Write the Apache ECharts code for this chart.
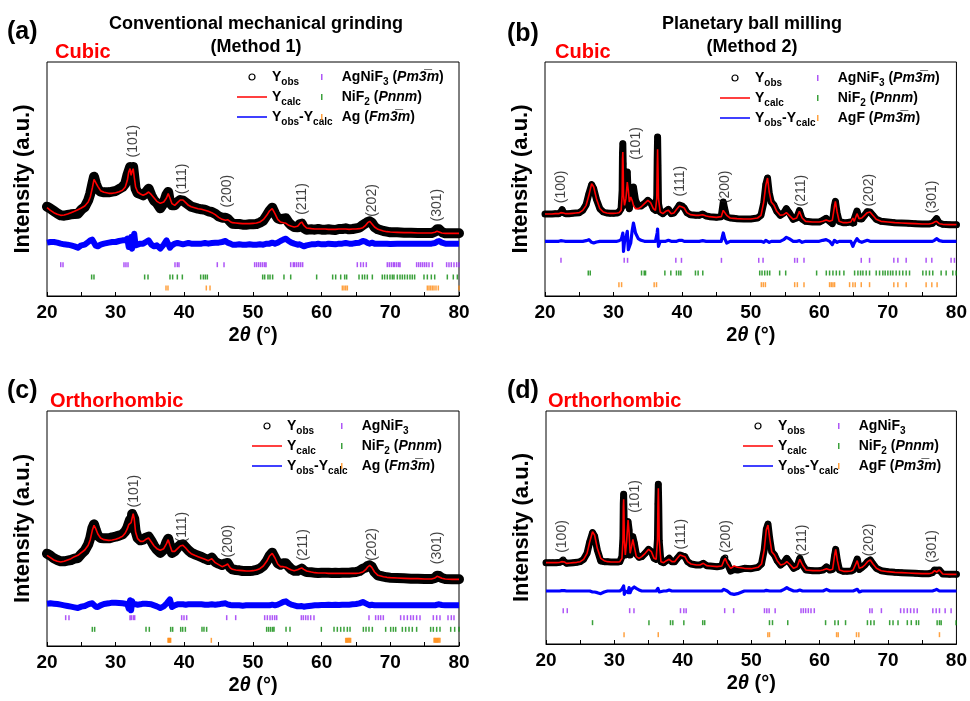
<!DOCTYPE html>
<html>
<head>
<meta charset="utf-8">
<script src="https://cdn.jsdelivr.net/npm/echarts@6/dist/echarts.min.js"></script>
<style>
  html, body { margin: 0; padding: 0; background: #fff; }
  #chart { width: 970px; height: 701px; }
</style>
</head>
<body>
<div id="chart"></div>
<script>
// ---------- 2θ sampling grids ----------
// Method 1 (conventional grinding) patterns
const twoThetaM1 = [
  20, 20.5, 21, 21.5, 22, 22.5, 23, 23.5, 24, 24.5, 25, 25.5, 26,
  26.3, 26.6, 26.85, 27.1, 27.4, 27.8, 28.3,
  29, 29.5, 30, 30.5, 31,
  31.4, 31.7, 31.9, 32.1, 32.25, 32.4, 32.55, 32.7, 32.9,
  33.2, 33.6, 34, 34.4, 34.8, 35.2, 35.6, 36, 36.5, 37,
  37.4, 37.65, 37.9, 38.2, 38.6, 39, 39.4, 39.8, 40.2, 40.6,
  41, 41.5, 42, 42.5, 43, 43.5, 44, 44.5, 45, 45.5, 46,
  46.3, 46.7,
  47, 47.5, 48, 48.5, 49, 49.5, 50, 50.5, 51, 51.5, 52,
  52.4, 52.8, 53.2, 53.6, 54, 54.4, 54.8, 55.2, 55.6, 56,
  56.5, 56.8, 57.1, 57.4, 57.8,
  58.5, 59, 59.5, 60, 60.5, 61, 61.5, 62, 62.5, 63, 63.5, 64, 64.5, 65, 65.5, 66,
  66.4, 66.7, 67, 67.3, 67.7, 68.2,
  69, 69.5, 70, 71, 72, 73, 74, 75, 76,
  76.5, 76.8, 77.1, 77.5, 78, 79, 80
];
// Method 2 (planetary ball milling) patterns
const twoThetaM2 = [
  20, 20.5, 21, 21.5, 22, 22.3, 22.5, 22.7, 23, 23.5, 24, 24.5, 25, 25.5, 26,
  26.4, 26.8, 27.1, 27.5, 28, 28.5, 29, 29.5, 30, 30.5, 30.8,
  31.1, 31.25, 31.3, 31.35, 31.4, 31.45, 31.6, 31.8, 32.0, 32.15, 32.3, 32.5, 32.7, 32.9,
  33.2, 33.6, 34, 34.5, 35, 35.4, 35.8, 36.1,
  36.3, 36.36, 36.42, 36.48, 36.55, 36.8,
  37.2, 37.6, 38.0, 38.4, 38.8, 39.2, 39.6, 40.0, 40.3, 40.7, 41.2,
  42, 42.5, 43, 43.5, 44, 45, 45.7, 46.0, 46.2, 46.5, 47, 47.5, 48,
  49, 50, 51, 51.5, 51.9, 52.2, 52.45, 52.7, 53.0, 53.4, 53.8,
  54.3, 54.8, 55.2, 55.6, 56.2, 56.7, 57.1, 57.5, 58, 59, 60,
  60.5, 61, 61.5, 61.9, 62.2, 62.35, 62.6, 62.9, 63.5, 64,
  64.6, 64.9, 65.1, 65.5, 65.8, 66.2, 66.6, 67.0, 67.4, 67.8, 68.3,
  69, 70, 71, 72, 73, 74, 75, 76,
  76.5, 76.8, 77.1, 77.5, 78, 79, 80
];

// ---------- (a) Method 1, cubic model ----------
const calcA = [
  265, 257, 250, 245, 242, 243, 246, 250, 254, 259, 264, 270, 282,
  297, 324, 350, 344, 329, 316, 311,
  308, 308, 310, 313, 317,
  327, 347, 372, 382, 362, 374, 382, 357, 327,
  312, 306, 302, 306, 312, 304, 294, 284, 278, 282,
  294, 307, 294, 277, 272, 280, 288, 288, 280, 272,
  268, 265, 262, 260, 257, 254, 250, 244, 236, 230, 227,
  229, 223,
  220, 219, 218, 217, 217, 217, 218, 219, 222, 229, 242,
  255, 262, 247, 230, 222, 220, 218, 212, 209, 207,
  209, 217, 222, 212, 204,
  202, 201, 201, 201, 201, 200, 200, 200, 201, 201, 201, 200, 201, 201, 202, 205,
  212, 220, 224, 217, 207, 200,
  195, 193, 192, 191, 190, 190, 189, 189, 189,
  191, 194, 192, 189, 188, 188, 188
];
const diffA = [
  3, 5, 5, 3, 0, -2, -3, -5, -8, -12, -5, -3, 5,
  10, 12, 8, -6, -8, -3, 0,
  3, 5, 5, 8, 10,
  10, 15, -10, 5, 20, -15, 5, 30, -5,
  -3, 0, 0, 5, 10, -3, -8, -5, -15, -3,
  10, 5, -12, -5, 0, 2, 0, -2, 0, 2,
  0, 0, 0, 0, 2, 0, 2, 3, 3, 5, 8,
  3, 0,
  -3, -3, -2, -3, -3, -2, -3, -3, -2, -3, 0,
  0, 3, 0, 3, 8, 12, 15, 8, 3, 0,
  -3, -2, -5, -8, -5,
  -2, -2, 0, -2, -2, 0, -1, -2, 0, 0, 2, 0, 0, 2, 3, 8,
  6, 2, 0, 3, 0, 0,
  0, 0, -1, 0, 0, 0, 0, 0, 0,
  2, 6, 8, 3, 0, 0, 0
];

// ---------- (c) Method 1, orthorhombic model ----------
const calcC = [
  272, 265, 258, 254, 252, 254, 258, 262, 268, 272, 280, 288, 302,
  319, 347, 362, 352, 336, 324, 319,
  317, 318, 320, 324, 329,
  339, 352, 364, 364, 370, 384, 397, 382, 342,
  322, 314, 314, 320, 324, 312, 300, 292, 287, 292,
  307, 319, 302, 284, 284, 292, 300, 302, 294, 284,
  277, 272, 268, 264, 260, 256, 262, 250, 244, 238, 242,
  246, 234,
  230, 228, 227, 226, 225, 225, 226, 228, 232, 240, 254,
  270, 278, 264, 246, 238, 238, 236, 232, 228, 226,
  229, 232, 234, 230, 225,
  222, 220, 219, 219, 219, 218, 218, 218, 218, 218, 218, 218, 218, 218, 219, 222,
  229, 237, 242, 236, 222, 212,
  208, 206, 205, 204, 203, 202, 202, 201, 201,
  204, 209, 207, 203, 201, 200, 200
];
const diffC = [
  5, 6, 5, 4, 2, 0, -2, -4, -6, -8, -4, -2, 3,
  5, 6, 3, -4, -5, 0, 4,
  6, 8, 8, 7, 6,
  5, 3, -10, 15, -15, 12, 3, 0, 3,
  2, 3, 5, 5, 4, 3, 0, -3, -8, -3,
  5, 3, 18, -5, 0, 3, 3, 3, 2, 3,
  3, 3, 3, 3, 2, 2, 3, 2, 3, 5, 6,
  3, 1,
  0, 0, 0, -1, 0, 0, 0, 0, 0, 0, 0,
  0, 2, 0, 2, 6, 10, 12, 6, 2, 0,
  -3, -3, -2, -4, -3,
  -1, 0, 0, 1, 1, 2, 1, 2, 1, 2, 2, 2, 3, 4, 6, 10,
  6, 3, 0, 2, 0, 0,
  0, 0, 0, 0, 0, 0, 0, 0, 0,
  0, 2, 3, 1, 0, 0, 0
];

// ---------- (b) Method 2, cubic model ----------
const calcB = [
  246, 246, 246, 247, 247, 250, 254, 249, 247, 247, 248, 249, 250, 257, 272,
  302, 337, 327, 292, 262, 252, 249, 248, 248, 249, 250,
  257, 302, 412, 432, 392, 302, 272, 292, 342, 317, 282, 297, 287, 272,
  262, 262, 267, 277, 287, 280, 262, 257,
  292, 382, 440, 382, 292, 252,
  247, 254, 257, 247, 249, 260, 270, 267, 264, 250, 244,
  242, 242, 244, 240, 238, 236, 238, 257, 254, 242, 234, 233, 232,
  231, 231, 234, 242, 282, 332, 354, 312, 282, 272, 254,
  242, 244, 250, 242, 230, 234, 254, 234, 224, 222, 222,
  224, 228, 224, 227, 267, 284, 252, 224, 220, 220,
  222, 234, 224, 247, 232, 234, 242, 250, 252, 242, 230,
  224, 222, 220, 219, 218, 217, 216, 216,
  218, 222, 224, 217, 215, 214, 214
];
const diffB = [
  0, 0, 0, 0, 0, 2, 5, 1, 0, 0, 0, 0, 0, 0, 2,
  5, -3, -5, -2, 0, 0, 0, 0, 0, 0, 2,
  5, 15, 15, 25, 5, -30, 0, 10, 30, -25, -20, -5, 30, 55,
  25, 8, 3, 0, 0, 0, 0, 0,
  5, 25, 37, 10, -15, 0,
  0, 0, 3, 0, 0, 0, 3, 3, 0, 0, 0,
  0, 0, 2, 0, 0, 0, 0, 25, 8, -5, 0, 0, 0,
  0, 0, 0, 0, -3, 3, 0, -3, 0, 0, 0,
  0, 5, 12, 8, 0, 0, 2, -3, 0, 0, 0,
  3, 5, 0, -10, 3, 0, -3, 0, 0, 0,
  0, -15, -5, 8, 0, -3, 0, 3, 0, 0, 0,
  0, 0, 0, 0, 0, 0, 0, 0,
  0, 3, 8, 2, 0, 0, 0
];

// ---------- (d) Method 2, orthorhombic model ----------
const calcD = [
  244, 244, 244, 244, 245, 247, 250, 246, 242, 243, 244, 245, 247, 254, 272,
  307, 337, 327, 287, 257, 250, 247, 246, 246, 246, 247,
  257, 312, 412, 434, 392, 312, 267, 312, 372, 332, 272, 292, 314, 292,
  262, 257, 262, 272, 284, 277, 257, 254,
  312, 412, 467, 412, 312, 247,
  244, 250, 254, 247, 247, 257, 267, 264, 262, 247, 240,
  237, 237, 242, 235, 234, 232, 234, 250, 257, 242, 227, 234, 230,
  227, 226, 230, 240, 282, 342, 357, 317, 277, 267, 250,
  237, 240, 247, 240, 227, 232, 254, 237, 222, 220, 220,
  222, 226, 222, 224, 267, 284, 250, 222, 218, 218,
  219, 222, 227, 250, 227, 230, 237, 247, 252, 240, 227,
  220, 217, 215, 214, 213, 212, 211, 211,
  214, 220, 216, 222, 210, 209, 209
];
const diffD = [
  0, 0, 0, 0, 0, 1, 3, 1, 0, 0, 0, 0, 0, 0, 0,
  0, -3, -3, -5, -8, -3, 0, 0, 0, 0, 0,
  5, 8, 10, 15, 5, -10, 0, 5, -5, 10, -5, 5, 8, 12,
  8, 3, 0, 0, 0, 0, 0, 0,
  3, 8, 12, 5, -3, 0,
  0, 0, 3, 0, 0, 0, 0, 0, 0, 0, 0,
  0, 0, 0, 0, 0, 0, 0, 5, 2, 0, -8, -10, -8,
  0, 0, 0, 0, 0, 2, 3, 0, 0, 0, 0,
  0, 5, 10, 5, 0, 0, 3, 0, 0, 0, 0,
  0, 5, 0, 0, 0, 0, 0, 0, 0, 0,
  0, 0, 0, 5, -3, 0, 0, 0, 0, 0, 0,
  0, 0, 0, 0, 0, 0, 0, 0,
  0, 2, 5, 0, 0, 0, 0
];

// ---------- Bragg reflection positions (2θ) ----------
const agnif3TicksA = [22.0, 22.33, 31.21, 31.5, 31.8, 38.64, 38.98, 39.22, 44.8, 45.78,
  50.24, 50.53, 50.83, 51.12, 51.41, 51.7, 51.9, 55.49, 55.87, 56.07, 56.36, 56.65, 56.94, 57.23,
  65.19, 65.68, 66.07, 66.5, 69.56, 69.85, 70.15, 70.44, 70.63, 70.92, 71.21, 71.41,
  73.83, 74.13, 74.42, 74.71, 75.0, 75.29, 75.63, 76.12, 78.2, 78.54, 78.88, 79.27, 79.66, 80.0];
const nif2TicksA = [26.5, 26.84, 34.22, 34.71, 37.91, 38.3, 38.98, 39.71, 42.38, 42.77, 43.06, 43.35,
  51.41, 51.7, 52.18, 52.48, 52.86, 54.51, 55.49, 59.27, 61.6, 62.04, 62.77, 63.35, 63.64,
  65.44, 65.92, 66.26, 66.65, 67.38, 68.83, 69.17, 69.56, 69.95, 70.29, 70.53, 71.02, 71.41,
  71.75, 72.09, 72.48, 72.86, 73.2, 73.54, 74.9, 75.39, 75.97, 76.46, 78.3, 79.17, 79.76];
const agTicksA = [37.33, 37.62, 43.2, 43.74, 63.01, 63.25, 63.5, 63.74,
  75.39, 75.63, 75.87, 76.12, 76.36, 76.65, 76.99, 80.0];

const agnif3TicksB = [22.33, 31.55, 32.04, 39.08, 39.9, 45.73, 51.17, 51.8, 56.41, 56.8, 57.77,
  66.12, 67.33, 70.87, 71.46, 72.67, 75.58, 76.41, 79.22, 79.71];
const nif2TicksB = [26.31, 26.6, 34.08, 34.47, 34.66, 37.48, 38.35, 39.17, 39.51, 39.81, 41.94, 42.33, 43.01,
  51.31, 51.65, 52.04, 52.43, 52.77, 54.22, 55.1, 59.61, 61.02, 61.5, 61.99, 62.48, 62.96, 63.59,
  65.15, 65.63, 66.02, 66.36, 66.84, 67.33, 68.3, 68.79, 69.27, 69.61, 70.0, 70.39, 70.73, 71.21,
  71.7, 72.18, 72.67, 73.16, 75.1, 75.58, 76.07, 76.55, 77.77, 78.5, 79.47, 79.95];
const agfTicksB = [30.78, 31.17, 35.92, 36.26, 51.55, 51.84, 52.14, 56.41, 56.8, 57.77,
  61.5, 61.75, 61.99, 62.23, 64.42, 64.9, 65.24, 66.12, 67.33, 70.87, 71.46, 72.67,
  75.58, 76.41, 77.18];

const agnif3TicksC = [22.72, 23.2, 32.09, 32.28, 32.57, 32.77, 39.61, 39.95, 40.34, 46.17, 47.48,
  51.7, 52.09, 52.48, 52.82, 53.16, 53.45, 57.04, 57.33, 57.67, 58.01, 58.4, 58.88,
  66.89, 67.86, 68.25, 68.59, 68.98, 71.5, 71.99, 72.48, 72.96, 73.35, 73.83, 74.32,
  76.26, 76.75, 77.23, 78.4, 78.88, 79.27];
const nif2TicksC = [26.6, 26.94, 34.42, 34.9, 38.01, 38.3, 39.47, 39.76, 40.15, 42.57, 42.86, 43.25,
  51.99, 52.28, 52.57, 52.86, 53.06, 54.81, 55.39, 59.95, 61.8, 62.28, 62.77, 63.25, 63.74, 64.13,
  66.07, 66.46, 66.89, 67.38, 69.32, 70.05, 70.44, 70.78, 71.75, 72.23, 72.72, 73.2, 73.83,
  75.87, 76.26, 76.75, 77.23, 78.79, 79.37, 80.0];
const agTicksC = [37.62, 37.72, 37.82, 37.92, 38.01, 43.93, 63.5, 63.62, 63.74, 63.86, 63.98, 64.1, 64.22,
  76.36, 76.48, 76.6, 76.72, 76.84, 76.96, 77.09, 77.23];

const agnif3TicksD = [22.52, 23.11, 32.23, 32.86, 39.66, 40.15, 40.49, 46.12, 47.43,
  51.94, 52.28, 52.62, 53.5, 57.28, 57.62, 57.96, 58.35, 58.74, 59.22,
  67.33, 67.67, 69.03, 71.84, 72.33, 72.82, 73.3, 73.79, 74.27,
  76.55, 77.04, 77.52, 78.35, 79.22];
const nif2TicksD = [26.8, 35.05, 38.2, 38.54, 40.15, 42.91, 43.2, 52.67, 53.11, 55.34, 60.87,
  62.23, 62.72, 63.79, 66.99, 67.48, 67.96, 70.24, 70.73, 71.46, 72.82, 73.4, 74.13, 74.47,
  77.18, 77.52, 77.77, 79.95];
const agfTicksD = [31.41, 36.41, 52.43, 52.67, 62.48, 62.72, 65.39, 65.73, 77.52];

// ---------- Miller-index annotations ----------
const hklM1 = ['(101)', '(111)', '(200)', '(211)', '(202)', '(301)'];
const hklM2 = ['(100)', '(101)', '(111)', '(200)', '(211)', '(202)', '(301)'];
const hklPosA = [32.67, 39.7, 46.3, 57.3, 67.4, 76.85];
const hklLevelA = [414, 304, 264, 242, 236, 222];
const hklPosB = [22.4, 33.35, 39.8, 46.35, 57.4, 67.3, 76.55];
const hklLevelB = [277, 407, 297, 277, 267, 267, 247];
const hklPosC = [32.77, 39.7, 46.4, 57.4, 67.4, 76.85];
const hklLevelC = [414, 309, 264, 254, 254, 244];
const hklPosD = [22.4, 33.1, 39.8, 46.35, 57.5, 67.3, 76.55];
const hklLevelD = [272, 392, 282, 272, 262, 262, 242];

// ---------- Phase names ----------
const PHASE_AGNIF3_CUBIC = 'AgNiF3 (Pm-3m)';
const PHASE_AGNIF3 = 'AgNiF3';
const PHASE_NIF2 = 'NiF2 (Pnnm)';
const PHASE_AG = 'Ag (Fm-3m)';
const PHASE_AGF = 'AgF (Pm-3m)';

const FONT = "'Liberation Sans', Arial, Helvetica, sans-serif";
const BAR3 = '3\u0305';
const legendText = {
  'Yobs': '{b|Y}{s|obs}',
  'Ycalc': '{b|Y}{s|calc}',
  'Yobs-Ycalc': '{b|Y}{s|obs}{b|-Y}{s|calc}',
  [PHASE_AGNIF3_CUBIC]: '{b|AgNiF}{s|3}{b| (}{i|Pm' + BAR3 + 'm}{b|)}',
  [PHASE_AGNIF3]: '{b|AgNiF}{s|3}',
  [PHASE_NIF2]: '{b|NiF}{s|2}{b| (}{i|Pnnm}{b|)}',
  [PHASE_AG]: '{b|Ag (}{i|Fm' + BAR3 + 'm}{b|)}',
  [PHASE_AGF]: '{b|AgF (}{i|Pm' + BAR3 + 'm}{b|)}'
};

const TICK_COLORS = ['#9a2cf5', '#0a8a0a', '#ff8a10'];

const panels = [
  { grid: { left: 47, top: 62, width: 412, height: 234 }, yMax: 702,
    tt: twoThetaM1, calc: calcA, diff: diffA, diffBase: 157, bandW: 10, diffW: 6,
    rows: [94, 57, 24], ticks: [agnif3TicksA, nif2TicksA, agTicksA],
    phases: [PHASE_AGNIF3_CUBIC, PHASE_NIF2, PHASE_AG],
    hkl: hklM1, hklPos: hklPosA, hklLevel: hklLevelA,
    legend: { l1: 237, l2: 321, top: 70 } },
  { grid: { left: 545, top: 62, width: 413, height: 234 }, yMax: 702,
    tt: twoThetaM2, calc: calcB, diff: diffB, diffBase: 164, bandW: 7, diffW: 3.2,
    rows: [107, 69, 34], ticks: [agnif3TicksB, nif2TicksB, agfTicksB],
    phases: [PHASE_AGNIF3_CUBIC, PHASE_NIF2, PHASE_AGF],
    hkl: hklM2, hklPos: hklPosB, hklLevel: hklLevelB,
    legend: { l1: 720, l2: 817, top: 71 } },
  { grid: { left: 47, top: 411, width: 412, height: 235 }, yMax: 705,
    tt: twoThetaM1, calc: calcC, diff: diffC, diffBase: 122, bandW: 10, diffW: 6,
    rows: [85, 50, 17], ticks: [agnif3TicksC, nif2TicksC, agTicksC],
    phases: [PHASE_AGNIF3, PHASE_NIF2, PHASE_AG],
    hkl: hklM1, hklPos: hklPosC, hklLevel: hklLevelC,
    legend: { l1: 252, l2: 341, top: 419 } },
  { grid: { left: 546, top: 411, width: 412, height: 233 }, yMax: 699,
    tt: twoThetaM2, calc: calcD, diff: diffD, diffBase: 159, bandW: 7, diffW: 3.2,
    rows: [100, 64, 28], ticks: [agnif3TicksD, nif2TicksD, agfTicksD],
    phases: [PHASE_AGNIF3, PHASE_NIF2, PHASE_AGF],
    hkl: hklM2, hklPos: hklPosD, hklLevel: hklLevelD,
    legend: { l1: 743, l2: 838, top: 419 } }
];

const LINE_ICON = 'path://M0,0H40V2H0Z';
const TICK_ICON = 'path://M0,0H1V4H0Z';

const richLegend = {
  b: { fontSize: 14, fontWeight: 'bold', fontFamily: FONT, color: '#000', lineHeight: 20, verticalAlign: 'middle' },
  s: { fontSize: 10, fontWeight: 'bold', fontFamily: FONT, color: '#000', verticalAlign: 'bottom' },
  i: { fontSize: 14, fontWeight: 'bold', fontStyle: 'italic', fontFamily: FONT, color: '#000', lineHeight: 20, verticalAlign: 'middle' }
};

const grids = [], xAxes = [], yAxes = [], series = [], legends = [];

panels.forEach((p, i) => {
  grids.push(Object.assign({ show: true, borderColor: '#000', borderWidth: 1, backgroundColor: 'transparent' }, p.grid));
  xAxes.push({
    gridIndex: i, type: 'value', min: 20, max: 80, interval: 5,
    axisLine: { show: true, lineStyle: { color: '#000', width: 1 } },
    axisTick: { show: true, inside: true, length: 4, lineStyle: { color: '#000', width: 1 } },
    axisLabel: { formatter: v => (v % 10 === 0 ? String(v) : ''), fontSize: 19, fontWeight: 'bold',
      color: '#000', fontFamily: FONT, margin: 7 },
    splitLine: { show: false },
    name: '2{it|\u03B8} (\u00B0)', nameLocation: 'middle', nameGap: 29,
    nameTextStyle: { fontSize: 20, fontWeight: 'bold', color: '#000', fontFamily: FONT,
      rich: { it: { fontSize: 20, fontWeight: 'bold', fontStyle: 'italic', color: '#000', fontFamily: FONT } } }
  });
  yAxes.push({
    gridIndex: i, type: 'value', min: 0, max: p.yMax,
    axisLine: { show: false }, axisTick: { show: false }, axisLabel: { show: false },
    splitLine: { show: false },
    name: 'Intensity (a.u.)', nameLocation: 'middle', nameRotate: 90, nameGap: 13,
    nameTextStyle: { fontSize: 22, fontWeight: 'bold', color: '#000', fontFamily: FONT }
  });

  // Observed profile = calculated profile + difference; difference drawn on its own baseline
  const obs = p.tt.map((t, k) => [t, p.calc[k] + p.diff[k]]);
  const calc = p.tt.map((t, k) => [t, p.calc[k]]);
  const dif = p.tt.map((t, k) => [t, p.diffBase + p.diff[k]]);

  series.push({
    type: 'line', name: 'Yobs', xAxisIndex: i, yAxisIndex: i, data: obs,
    symbol: 'circle', symbolSize: 5, showSymbol: true, showAllSymbol: true,
    itemStyle: { color: 'rgba(0,0,0,0)', borderColor: '#000', borderWidth: 1.2 },
    lineStyle: { color: '#000', width: p.bandW, join: 'round', cap: 'round' },
    z: 2, silent: true
  });
  series.push({
    type: 'line', name: 'Ycalc', xAxisIndex: i, yAxisIndex: i, data: calc,
    symbol: 'none', itemStyle: { color: '#ff0000' },
    lineStyle: { color: '#ff0000', width: 1.6 }, z: 3, silent: true
  });
  series.push({
    type: 'line', name: 'Yobs-Ycalc', xAxisIndex: i, yAxisIndex: i, data: dif,
    symbol: 'none', itemStyle: { color: '#0000ff' },
    lineStyle: { color: '#0000ff', width: p.diffW, join: 'round' }, z: 3, silent: true
  });
  p.ticks.forEach((arr, r) => {
    series.push({
      type: 'scatter', name: p.phases[r], xAxisIndex: i, yAxisIndex: i,
      data: arr.map(t => [t, p.rows[r]]),
      symbol: 'rect', symbolSize: [1.5, 5],
      itemStyle: { color: TICK_COLORS[r] }, z: 3, silent: true
    });
  });
  series.push({
    type: 'scatter', name: 'hkl', xAxisIndex: i, yAxisIndex: i,
    data: p.hkl.map((h, k) => ({ name: h, value: [p.hklPos[k], p.hklLevel[k]] })),
    symbolSize: 1, itemStyle: { color: 'rgba(0,0,0,0)' },
    label: { show: true, formatter: d => d.name, rotate: 90, position: [0, 0],
      align: 'left', verticalAlign: 'middle', fontSize: 14, color: '#111', fontFamily: FONT },
    z: 4, silent: true
  });

  const commonLegend = {
    orient: 'vertical', top: p.legend.top, itemWidth: 30, itemHeight: 6, itemGap: 3, padding: 0,
    selectedMode: false, formatter: n => legendText[n],
    textStyle: { rich: richLegend }
  };
  legends.push(Object.assign({}, commonLegend, {
    left: p.legend.l1,
    data: [
      { name: 'Yobs', icon: 'circle', itemStyle: { color: '#fff', borderColor: '#000', borderWidth: 1.2 } },
      { name: 'Ycalc', icon: LINE_ICON, itemStyle: { color: '#ff0000' } },
      { name: 'Yobs-Ycalc', icon: LINE_ICON, itemStyle: { color: '#0000ff' } }
    ]
  }));
  legends.push(Object.assign({}, commonLegend, {
    left: p.legend.l2,
    data: p.phases.map((ph, r) => ({ name: ph, icon: TICK_ICON, itemStyle: { color: TICK_COLORS[r] } }))
  }));
});

function txt(x, y, text, size, color, align) {
  return { type: 'text', x: x, y: y, silent: true,
    style: { text: text, fontSize: size, fontWeight: 'bold', fontFamily: FONT, fill: color || '#000',
      textAlign: align || 'left', textVerticalAlign: 'middle' } };
}

const graphics = [
  txt(7, 32, '(a)', 25),
  txt(55, 52, 'Cubic', 20, '#ff0000'),
  txt(256, 24, 'Conventional mechanical grinding', 18, '#000', 'center'),
  txt(256, 47, '(Method 1)', 18, '#000', 'center'),
  txt(507, 34, '(b)', 25),
  txt(555, 52, 'Cubic', 20, '#ff0000'),
  txt(752, 24, 'Planetary ball milling', 18, '#000', 'center'),
  txt(752, 47, '(Method 2)', 18, '#000', 'center'),
  txt(7, 391, '(c)', 25),
  txt(50, 401, 'Orthorhombic', 20, '#ff0000'),
  txt(507, 391, '(d)', 25),
  txt(548, 401, 'Orthorhombic', 20, '#ff0000')
];

const chart = echarts.init(document.getElementById('chart'), null, { renderer: 'canvas' });
chart.setOption({
  animation: false,
  backgroundColor: '#fff',
  textStyle: { fontFamily: FONT },
  grid: grids, xAxis: xAxes, yAxis: yAxes,
  legend: legends,
  series: series,
  graphic: graphics
});
</script>
</body>
</html>
